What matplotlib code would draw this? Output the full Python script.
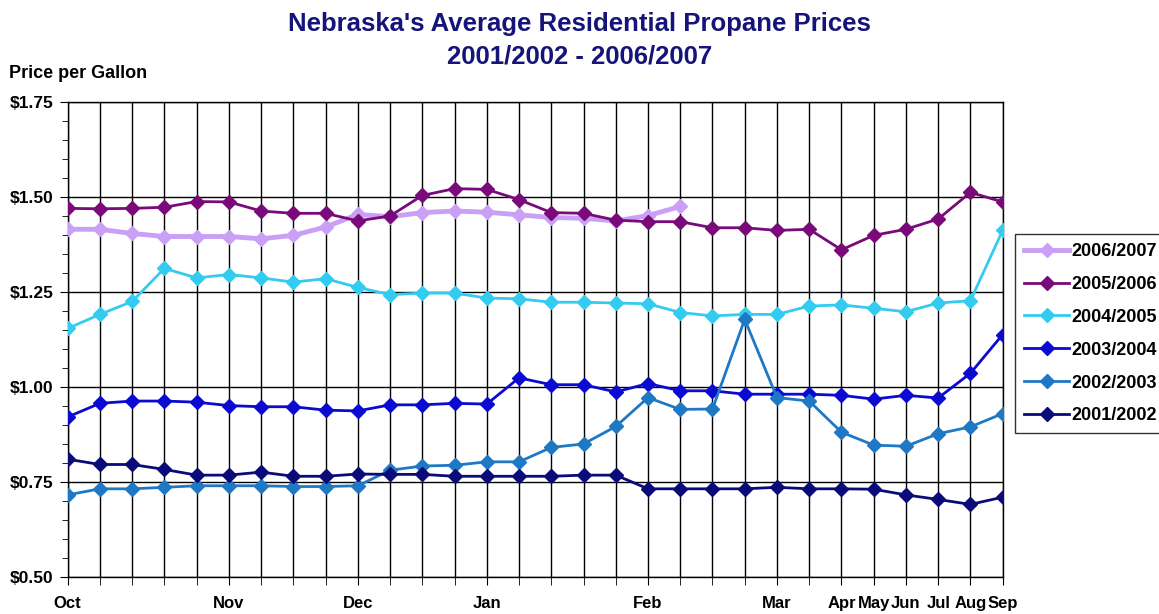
import numpy as np
import matplotlib
matplotlib.use("Agg")
import matplotlib.pyplot as plt
from matplotlib.ticker import MultipleLocator, FixedLocator, FixedFormatter

# weekly Oct-Mar, monthly Apr-Sep
month_labels = ["Oct", "Nov", "Dec", "Jan", "Feb", "Mar",
                "Apr", "May", "Jun", "Jul", "Aug", "Sep"]
month_idx = [0, 5, 9, 13, 18, 22, 24, 25, 26, 27, 28, 29]

p0607 = [1.415, 1.415, 1.404, 1.396, 1.396, 1.396, 1.390, 1.399, 1.421, 1.454,
         1.448, 1.459, 1.463, 1.460, 1.453, 1.446, 1.444, 1.437, 1.451, 1.475]
p0506 = [1.470, 1.469, 1.470, 1.473, 1.488, 1.487, 1.463, 1.457, 1.457, 1.437,
         1.450, 1.504, 1.522, 1.520, 1.493, 1.459, 1.457, 1.439, 1.435, 1.435,
         1.419, 1.419, 1.412, 1.415, 1.361, 1.399, 1.415, 1.442, 1.512, 1.487]
p0405 = [1.154, 1.191, 1.225, 1.312, 1.287, 1.296, 1.287, 1.276, 1.285, 1.262,
         1.243, 1.247, 1.247, 1.234, 1.232, 1.223, 1.223, 1.221, 1.219, 1.196,
         1.187, 1.191, 1.191, 1.213, 1.216, 1.207, 1.198, 1.221, 1.227, 1.412]
p0304 = [0.921, 0.957, 0.963, 0.963, 0.960, 0.951, 0.948, 0.948, 0.939, 0.937,
         0.953, 0.953, 0.957, 0.955, 1.024, 1.006, 1.006, 0.987, 1.009, 0.990,
         0.990, 0.981, 0.981, 0.981, 0.978, 0.968, 0.978, 0.971, 1.036, 1.138]
p0203 = [0.716, 0.732, 0.732, 0.736, 0.740, 0.740, 0.740, 0.738, 0.738, 0.740,
         0.781, 0.792, 0.794, 0.803, 0.803, 0.841, 0.850, 0.896, 0.972, 0.941,
         0.942, 1.178, 0.972, 0.963, 0.881, 0.847, 0.844, 0.877, 0.895, 0.930]
p0102 = [0.810, 0.796, 0.796, 0.783, 0.768, 0.768, 0.776, 0.765, 0.765, 0.771,
         0.770, 0.770, 0.765, 0.765, 0.765, 0.765, 0.768, 0.768, 0.732, 0.732,
         0.732, 0.732, 0.736, 0.732, 0.732, 0.731, 0.716, 0.704, 0.691, 0.710]

series = [("2006/2007", p0607, "#c9a0f5", 3.5),
          ("2005/2006", p0506, "#7a0a7a", 2.0),
          ("2004/2005", p0405, "#33ccf0", 2.0),
          ("2003/2004", p0304, "#0a0ad0", 2.0),
          ("2002/2003", p0203, "#1f78c4", 2.0),
          ("2001/2002", p0102, "#0a0a78", 2.0)]

plt.rcParams['font.family'] = ['Liberation Sans', 'DejaVu Sans']
plt.rcParams['font.weight'] = 'bold'

fig = plt.figure(figsize=(11.59, 6.14), dpi=100)
ax = fig.add_axes([0.0584, 0.0603, 0.8067, 0.7736])

for name, vals, col, lw in series:
    ax.plot(np.arange(len(vals)), vals, color=col, lw=lw, marker="D",
            ms=7, label=name, zorder=3)

ax.set_xlim(0, 29)
ax.set_ylim(0.5, 1.75)
ax.xaxis.set_major_locator(FixedLocator(month_idx))
ax.xaxis.set_major_formatter(FixedFormatter(month_labels))
ax.xaxis.set_minor_locator(FixedLocator([i for i in range(30) if i not in month_idx]))
ax.yaxis.set_major_locator(MultipleLocator(0.25))
ax.yaxis.set_minor_locator(MultipleLocator(0.05))
ax.yaxis.set_major_formatter(lambda v, p: "${:.2f}".format(v))
ax.grid(True, which="major", color="black", lw=1.0)
ax.grid(True, which="minor", axis="x", color="black", lw=1.0)
ax.tick_params(axis="both", which="both", direction="out", color="black")
ax.tick_params(axis="x", which="both", length=6, labelsize=12, pad=8)
ax.tick_params(axis="y", which="major", length=6, labelsize=12.5, pad=4)
ax.tick_params(axis="y", which="minor", length=4)
for lab in ax.get_xticklabels() + ax.get_yticklabels():
    lab.set_fontweight("bold")
for s in ax.spines.values():
    s.set_color("black")
    s.set_linewidth(1.0)

title_col = "#14147a"
fig.text(0.5, 1 - 24 / 614, "Nebraska's Average Residential Propane Prices",
         ha="center", va="center", fontsize=18.5, fontweight="bold", color=title_col)
fig.text(0.5, 1 - 57 / 614, "2001/2002 - 2006/2007",
         ha="center", va="center", fontsize=18.5, fontweight="bold", color=title_col)
fig.text(0.008, 1 - 74 / 614, "Price per Gallon", ha="left", va="center",
         fontsize=13, fontweight="bold")

leg = fig.legend(loc="upper left", bbox_to_anchor=(1015 / 1159, 1 - 234 / 614),
                 fontsize=13, frameon=True, fancybox=False, edgecolor="black",
                 handlelength=2.5, labelspacing=0.88, borderpad=0.5,
                 handletextpad=0.15, borderaxespad=0)
leg.get_frame().set_linewidth(1.0)
for t in leg.get_texts():
    t.set_fontweight("bold")

fig.savefig("out.png", dpi=100)
